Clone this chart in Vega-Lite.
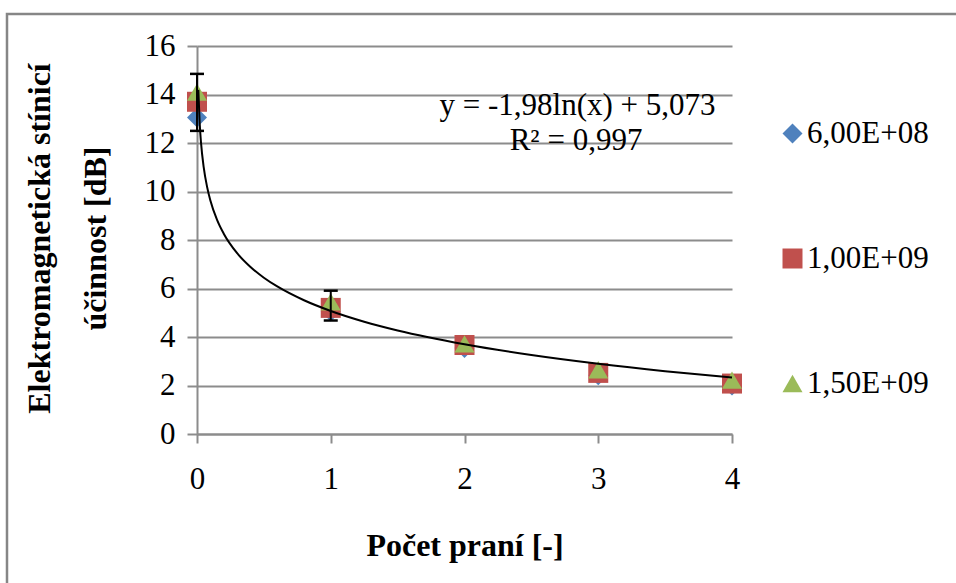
{
  "$schema": "https://vega.github.io/schema/vega-lite/v6.json",
  "width": 535,
  "height": 388,
  "autosize": {"type": "none"},
  "padding": {"left": 197, "top": 46, "right": 224, "bottom": 149},
  "background": "white",
  "config": {"view": {"stroke": null}, "font": "Liberation Serif"},
  "datasets": {
    "mereni": [
      {"prani": 0, "se": 13.05, "f": "6,00E+08"},
      {"prani": 1, "se": 5.05, "f": "6,00E+08"},
      {"prani": 2, "se": 3.55, "f": "6,00E+08"},
      {"prani": 3, "se": 2.42, "f": "6,00E+08"},
      {"prani": 4, "se": 2.0, "f": "6,00E+08"},
      {"prani": 0, "se": 13.7, "f": "1,00E+09"},
      {"prani": 1, "se": 5.2, "f": "1,00E+09"},
      {"prani": 2, "se": 3.67, "f": "1,00E+09"},
      {"prani": 3, "se": 2.52, "f": "1,00E+09"},
      {"prani": 4, "se": 2.08, "f": "1,00E+09"},
      {"prani": 0, "se": 14.1, "f": "1,50E+09"},
      {"prani": 1, "se": 5.45, "f": "1,50E+09"},
      {"prani": 2, "se": 3.72, "f": "1,50E+09"},
      {"prani": 3, "se": 2.65, "f": "1,50E+09"},
      {"prani": 4, "se": 2.22, "f": "1,50E+09"}
    ],
    "chyby": [
      {"prani": 0, "lo": 12.5, "hi": 14.85},
      {"prani": 1, "lo": 4.68, "hi": 5.91}
    ],
    "trend": [
      {"x": 0.01, "y": 14.191},
      {"x": 0.02, "y": 12.819},
      {"x": 0.03, "y": 12.016},
      {"x": 0.05, "y": 11.005},
      {"x": 0.075, "y": 10.202},
      {"x": 0.1, "y": 9.632},
      {"x": 0.15, "y": 8.829},
      {"x": 0.2, "y": 8.26},
      {"x": 0.3, "y": 7.457},
      {"x": 0.4, "y": 6.887},
      {"x": 0.5, "y": 6.445},
      {"x": 0.6, "y": 6.084},
      {"x": 0.8, "y": 5.515},
      {"x": 1, "y": 5.073},
      {"x": 1.25, "y": 4.631},
      {"x": 1.5, "y": 4.27},
      {"x": 2, "y": 3.701},
      {"x": 2.5, "y": 3.259},
      {"x": 3, "y": 2.898},
      {"x": 3.5, "y": 2.592},
      {"x": 4, "y": 2.328}
    ],
    "rovnice": [
      {"tx": 2.845, "ty": 13.15, "t": "y = -1,98ln(x) + 5,073"},
      {"tx": 2.834, "ty": 11.7, "t": "R² = 0,997"}
    ]
  },
  "layer": [
    {
      "data": {"name": "mereni"},
      "mark": {"type": "point", "filled": true, "opacity": 1, "strokeWidth": 0},
      "encoding": {
        "x": {
          "field": "prani", "type": "quantitative",
          "scale": {"domain": [0, 4], "nice": false},
          "axis": {
            "values": [0, 1, 2, 3, 4], "grid": false, "format": "d", "labelFlush": false,
            "domainColor": "#8c8c8c", "domainWidth": 2,
            "tickColor": "#8c8c8c", "tickWidth": 2, "tickSize": 9,
            "labelFont": "Liberation Serif", "labelFontSize": 31, "labelColor": "black", "labelPadding": 21,
            "title": "Počet praní [-]", "titleFont": "Liberation Serif", "titleFontSize": 32,
            "titleFontWeight": "bold", "titleColor": "black", "titleY": 111, "titleBaseline": "middle"
          }
        },
        "y": {
          "field": "se", "type": "quantitative",
          "scale": {"domain": [0, 16], "nice": false},
          "axis": {
            "values": [0, 2, 4, 6, 8, 10, 12, 14, 16], "grid": true, "labelFlush": false,
            "gridColor": "#8c8c8c", "gridWidth": 2,
            "domainColor": "#8c8c8c", "domainWidth": 2,
            "tickColor": "#8c8c8c", "tickWidth": 2, "tickSize": 10,
            "labelFont": "Liberation Serif", "labelFontSize": 31, "labelColor": "black", "labelPadding": 12,
            "title": ["Elektromagnetická stínicí", "účinnost [dB]"],
            "titleFont": "Liberation Serif", "titleFontSize": 32, "titleFontWeight": "bold", "titleColor": "black",
            "titleAngle": -90, "titleX": -173, "titleY": 192, "titleAlign": "center", "titleBaseline": "top",
            "titleLineHeight": 56
          }
        },
        "color": {
          "field": "f", "type": "nominal",
          "scale": {"domain": ["6,00E+08", "1,00E+09", "1,50E+09"], "range": ["#4F81BD", "#C0504D", "#9BBB59"]},
          "legend": {
            "title": null, "orient": "none", "legendX": 580, "legendY": 72,
            "labelFont": "Liberation Serif", "labelFontSize": 31, "labelColor": "black",
            "labelLimit": 0, "labelOffset": -1, "symbolSize": 400, "symbolStrokeWidth": 0,
            "symbolOpacity": 1, "rowPadding": 93
          }
        },
        "shape": {
          "field": "f", "type": "nominal",
          "scale": {"domain": ["6,00E+08", "1,00E+09", "1,50E+09"], "range": ["diamond", "square", "triangle-up"]}
        },
        "size": {
          "field": "f", "type": "nominal",
          "scale": {"domain": ["6,00E+08", "1,00E+09", "1,50E+09"], "range": [400, 400, 560]},
          "legend": null
        }
      }
    },
    {
      "data": {"name": "trend"},
      "mark": {"type": "line", "color": "black", "strokeWidth": 2, "interpolate": "monotone"},
      "encoding": {
        "x": {"field": "x", "type": "quantitative", "scale": {"domain": [0, 4], "nice": false}},
        "y": {"field": "y", "type": "quantitative", "scale": {"domain": [0, 16], "nice": false}}
      }
    },
    {
      "data": {"name": "chyby"},
      "mark": {"type": "rule", "color": "black", "strokeWidth": 2},
      "encoding": {
        "x": {"field": "prani", "type": "quantitative", "scale": {"domain": [0, 4], "nice": false}},
        "y": {"field": "lo", "type": "quantitative", "scale": {"domain": [0, 16], "nice": false}},
        "y2": {"field": "hi"}
      }
    },
    {
      "data": {"name": "chyby"},
      "mark": {"type": "tick", "orient": "horizontal", "color": "black", "size": 14, "thickness": 2.5, "opacity": 1},
      "encoding": {
        "x": {"field": "prani", "type": "quantitative", "scale": {"domain": [0, 4], "nice": false}},
        "y": {"field": "lo", "type": "quantitative", "scale": {"domain": [0, 16], "nice": false}}
      }
    },
    {
      "data": {"name": "chyby"},
      "mark": {"type": "tick", "orient": "horizontal", "color": "black", "size": 14, "thickness": 2.5, "opacity": 1},
      "encoding": {
        "x": {"field": "prani", "type": "quantitative", "scale": {"domain": [0, 4], "nice": false}},
        "y": {"field": "hi", "type": "quantitative", "scale": {"domain": [0, 16], "nice": false}}
      }
    },
    {
      "data": {"name": "rovnice"},
      "mark": {"type": "text", "font": "Liberation Serif", "fontSize": 31, "color": "black", "align": "center", "baseline": "alphabetic"},
      "encoding": {
        "x": {"field": "tx", "type": "quantitative", "scale": {"domain": [0, 4], "nice": false}},
        "y": {"field": "ty", "type": "quantitative", "scale": {"domain": [0, 16], "nice": false}},
        "text": {"field": "t"}
      }
    },
    {
      "data": {"values": [{}]},
      "mark": {"type": "rect", "fill": null, "stroke": "#868686", "strokeWidth": 2.5},
      "encoding": {
        "x": {"datum": -1.4206, "type": "quantitative", "scale": {"domain": [0, 4], "nice": false}},
        "x2": {"datum": 6.5},
        "y": {"datum": 17.32, "type": "quantitative", "scale": {"domain": [0, 16], "nice": false}},
        "y2": {"datum": -8}
      }
    }
  ]
}
